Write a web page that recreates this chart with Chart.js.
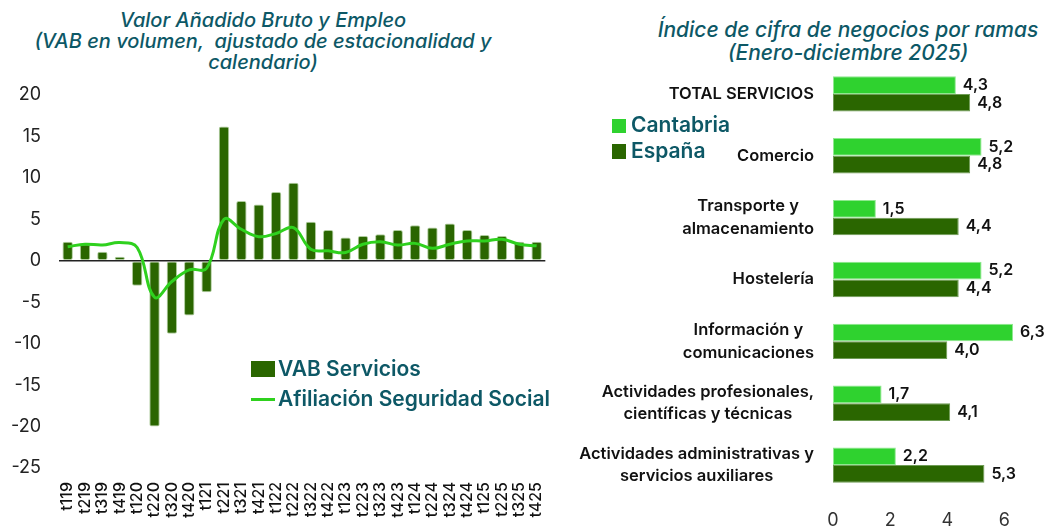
<!DOCTYPE html>
<html>
<head>
<meta charset="utf-8">
<script src="https://cdn.jsdelivr.net/npm/chart.js@4.4.1/dist/chart.umd.min.js"></script>
<style>
  html, body { margin:0; padding:0; background:#fff; }
  body { width:1049px; height:527px; position:relative; overflow:hidden; font-family: Inter, "Noto Sans", sans-serif; }
  canvas { position:absolute; }
  .title { position:absolute; color:#0d5866; font-style:italic; font-weight:500; text-align:center; font-family: Inter, sans-serif; }
  .leg { position:absolute; color:#0d5866; font-weight:600; font-family: Inter, sans-serif; white-space:nowrap; }
  .sw { position:absolute; }
</style>
</head>
<body>
<div class="title" style="left:0;top:10px;width:526px;font-size:20px;line-height:21px;">Valor Añadido Bruto y Empleo<br>(VAB en volumen,&nbsp; ajustado de estacionalidad y<br>calendario)</div>
<div class="title" style="left:648px;top:18px;width:400px;font-size:21px;line-height:23px;">Índice de cifra de negocios por ramas<br>(Enero-diciembre 2025)</div>

<canvas id="left" width="570" height="527" style="left:0;top:0;"></canvas>
<canvas id="right" width="479" height="527" style="left:570px;top:0;"></canvas>

<!-- left legend -->
<div class="sw" style="left:251px;top:361px;width:24px;height:16px;background:#2a6600;"></div>
<div class="leg" style="left:278px;top:356px;font-size:21px;line-height:26px;">VAB Servicios</div>
<div class="sw" style="left:251px;top:398px;width:24px;height:3px;background:#2fd11e;"></div>
<div class="leg" style="left:278px;top:386px;font-size:21px;line-height:26px;">Afiliación Seguridad Social</div>

<!-- right legend -->
<div class="sw" style="left:612px;top:119px;width:14px;height:14px;background:#2fd22f;"></div>
<div class="leg" style="left:631px;top:112px;font-size:21px;line-height:26px;">Cantabria</div>
<div class="sw" style="left:612px;top:144px;width:14px;height:15px;background:#2a6600;"></div>
<div class="leg" style="left:631px;top:138px;font-size:21px;line-height:26px;">España</div>

<script>
// ---------- Left chart data ----------
const periods = ['t119','t219','t319','t419','t120','t220','t320','t420','t121','t221','t321','t421',
                 't122','t222','t322','t422','t123','t223','t323','t423','t124','t224','t324','t424',
                 't125','t225','t325','t425'];
const vabServicios = [2.3, 2.0, 1.1, 0.5, -3.0, -20.0, -8.8, -6.6, -3.8, 16.2, 7.2, 6.8,
                      8.3, 9.4, 4.7, 3.7, 2.8, 3.0, 3.2, 3.7, 4.3, 4.0, 4.5, 3.7,
                      3.1, 3.0, 2.3, 2.3];
const afiliacion = [1.7, 2.0, 1.9, 2.2, 1.6, -4.4, -2.5, -1.1, -0.9, 5.0, 3.8, 2.9,
                    3.3, 4.0, 1.4, 1.2, 1.0, 2.0, 2.3, 1.9, 2.1, 1.5, 2.0, 2.4,
                    2.4, 2.6, 2.0, 1.8];
const leftTicks = [-25, -20, -15, -10, -5, 0, 5, 10, 15, 20];

// ---------- Right chart data ----------
const ramas = [['TOTAL SERVICIOS'], ['Comercio'], ['Transporte y','almacenamiento'], ['Hostelería'],
               ['Información y','comunicaciones'], ['Actividades profesionales,','científicas y técnicas'],
               ['Actividades administrativas y','servicios auxiliares']];
const cantabria = [4.3, 5.2, 1.5, 5.2, 6.3, 1.7, 2.2];
const espana = [4.8, 4.8, 4.4, 4.4, 4.0, 4.1, 5.3];
const rightTicks = [0, 2, 4, 6];

const DARK = '#2a6600';
const LIGHT = '#2fd22f';
const LINE = '#2fd11e';

new Chart(document.getElementById('left'), {
  type: 'bar',
  data: {
    labels: periods,
    datasets: [
      { type:'line', label:'Afiliación Seguridad Social', data: afiliacion, borderColor: LINE, borderWidth: 3,
        tension: 0.4, pointRadius: 0, fill:false, order: 0 },
      { type:'bar', label:'VAB Servicios', data: vabServicios, backgroundColor: DARK,
        borderColor: 'rgba(120,170,90,0.6)', borderWidth: 1, borderRadius: 2, borderSkipped: false,
        barPercentage: 0.6, categoryPercentage: 1.0, order: 1 }
    ]
  },
  options: {
    responsive: false, animation: false, devicePixelRatio: 1,
    layout: { padding: { top: 95, right: 9, left: 0, bottom: 0 } },
    plugins: { legend: { display:false }, tooltip: { enabled:false } },
    scales: {
      x: {
        grid: { display:false, drawTicks:false }, border: { display:false },
        ticks: { autoSkip:false, minRotation:90, maxRotation:90, padding: 14, color:'#111',
                 font: { family:'Inter', size: 16, weight: 500 } },
        afterFit: s => { s.height = 59; }
      },
      y: {
        min: -25, max: 20,
        afterBuildTicks: s => { s.ticks = leftTicks.map(v => ({ value: v })); },
        grid: { color: c => (c.tick && c.tick.value === 0) ? '#222' : 'rgba(0,0,0,0)', lineWidth: 1.5, drawTicks:false },
        border: { display:false },
        ticks: { padding: 18, color:'#222', font: { family:'Inter', size: 18 } },
        afterFit: s => { s.width = 59; }
      }
    }
  }
});

const fmt = v => v.toFixed(1).replace('.', ',');

const rightPlugin = {
  id: 'rightLabels',
  afterDraw(chart) {
    const ctx = chart.ctx;
    const ys = chart.scales.y;
    ctx.save();
    // category labels, each block centered on itself and right-aligned as a block
    ctx.font = '600 16.5px Inter';
    ctx.fillStyle = '#111';
    ctx.textAlign = 'center';
    ctx.textBaseline = 'middle';
    const rightX = chart.chartArea.left - 19;
    const lh = 22.5;
    ramas.forEach((lines, i) => {
      const cy = ys.getPixelForTick(i);
      const w = Math.max(...lines.map(l => ctx.measureText(l).width));
      const cx = rightX - w / 2;
      lines.forEach((l, k) => {
        ctx.fillText(l, cx, cy + (k - (lines.length - 1) / 2) * lh);
      });
    });
    // data labels
    ctx.font = '600 16px Inter';
    ctx.textAlign = 'left';
    chart.data.datasets.forEach((ds, di) => {
      const meta = chart.getDatasetMeta(di);
      meta.data.forEach((el, i) => {
        ctx.fillText(fmt(ds.data[i]), el.x + 7, el.y);
      });
    });
    ctx.restore();
  }
};

new Chart(document.getElementById('right'), {
  type: 'bar',
  data: {
    labels: ramas,
    datasets: [
      { label:'Cantabria', data: cantabria, backgroundColor: LIGHT, borderColor:'#8fe98f', borderWidth: 1,
        borderSkipped: false, categoryPercentage: 0.572, barPercentage: 1.0 },
      { label:'España', data: espana, backgroundColor: DARK, borderColor:'#6f9c55', borderWidth: 1,
        borderSkipped: false, categoryPercentage: 0.572, barPercentage: 1.0 }
    ]
  },
  options: {
    indexAxis: 'y',
    responsive: false, animation: false, devicePixelRatio: 1,
    layout: { padding: { top: 63, right: 16, left: 0, bottom: 0 } },
    plugins: { legend: { display:false }, tooltip: { enabled:false } },
    scales: {
      y: {
        grid: { display:false, drawTicks:false }, border: { display:false },
        ticks: { display:false },
        afterFit: s => { s.width = 263; }
      },
      x: {
        min: 0, max: 7,
        afterBuildTicks: s => { s.ticks = rightTicks.map(v => ({ value: v })); },
        grid: { display:false, drawTicks:false }, border: { display:false },
        ticks: { padding: 14, color:'#333', font: { family:'Inter', size: 18 } },
        afterFit: s => { s.height = 31; }
      }
    }
  },
  plugins: [rightPlugin]
});
</script>
</body>
</html>
